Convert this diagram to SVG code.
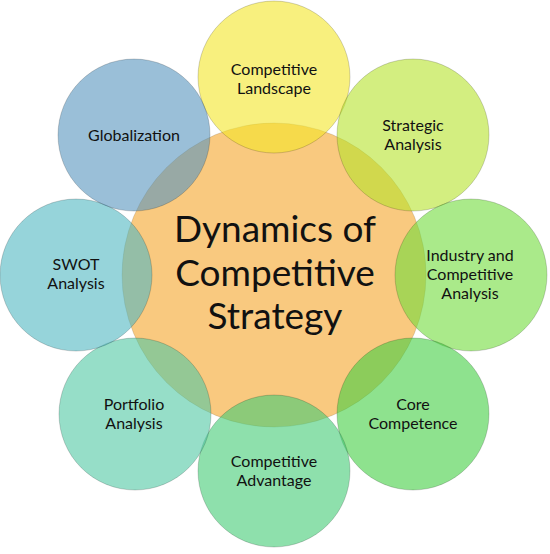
<svg xmlns="http://www.w3.org/2000/svg" width="550" height="554" viewBox="0 0 550 554">
<style>
.sat{fill-opacity:0.6;stroke:#000;stroke-opacity:0.22;stroke-width:0.8}
.ctr{fill:#F9C97F;stroke:#000;stroke-opacity:0.15;stroke-width:0.8}
.lbl{font-family:Lato,"Open Sans","Liberation Sans",sans-serif;font-size:16px;fill:#111;text-anchor:middle}
.ttl{font-family:Lato,"Open Sans","Liberation Sans",sans-serif;font-size:37px;fill:#111;text-anchor:middle}
</style>
<rect width="550" height="554" fill="#fff"/>
<g id="center">
<circle class="ctr" cx="274" cy="275" r="152"/>
<text class="ttl" x="275" y="242">Dynamics of</text>
<text class="ttl" x="275" y="286">Competitive</text>
<text class="ttl" x="275" y="329">Strategy</text>
</g>
<g id="connectors"></g>
<g id="landscape">
<circle class="sat" cx="274" cy="77" r="76" fill="#F3E628"/>
<text class="lbl" x="274" y="75">Competitive</text>
<text class="lbl" x="274" y="94">Landscape</text>
</g>
<g id="strategic">
<circle class="sat" cx="413" cy="135" r="76" fill="#B6E32B"/>
<text class="lbl" x="413" y="131">Strategic</text>
<text class="lbl" x="413" y="150">Analysis</text>
</g>
<g id="industry">
<circle class="sat" cx="471" cy="275" r="76" fill="#71DC3C"/>
<text class="lbl" x="470" y="261">Industry and</text>
<text class="lbl" x="470" y="280">Competitive</text>
<text class="lbl" x="470" y="299">Analysis</text>
</g>
<g id="core">
<circle class="sat" cx="413" cy="414" r="76" fill="#43CF43"/>
<text class="lbl" x="413" y="410">Core</text>
<text class="lbl" x="413" y="429">Competence</text>
</g>
<g id="advantage">
<circle class="sat" cx="274" cy="471" r="76" fill="#43CB75"/>
<text class="lbl" x="274" y="467">Competitive</text>
<text class="lbl" x="274" y="486">Advantage</text>
</g>
<g id="portfolio">
<circle class="sat" cx="135" cy="414" r="76" fill="#50C8A3"/>
<text class="lbl" x="134" y="410">Portfolio</text>
<text class="lbl" x="134" y="429">Analysis</text>
</g>
<g id="swot">
<circle class="sat" cx="76" cy="275" r="76" fill="#50B7C1"/>
<text class="lbl" x="76" y="270">SWOT</text>
<text class="lbl" x="76" y="289">Analysis</text>
</g>
<g id="globalization">
<circle class="sat" cx="134" cy="135" r="76" fill="#5794BE"/>
<text class="lbl" x="134" y="141">Globalization</text>
</g>
</svg>
